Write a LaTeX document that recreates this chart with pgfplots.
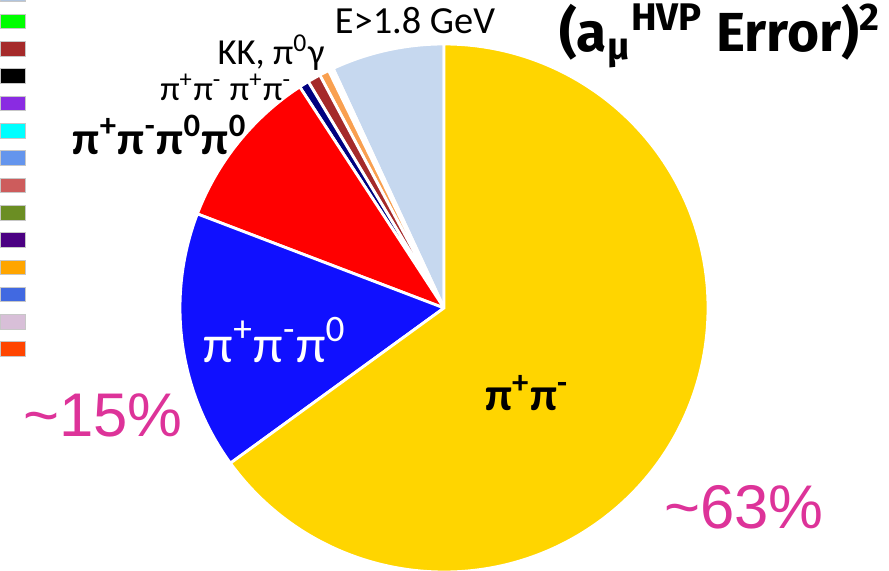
\documentclass[border=0pt]{standalone}
\usepackage{pgfplots}
\pgfplotsset{compat=1.18}
\usepackage{pgfplotstable}
\usepackage{fontspec}
\setmainfont{Carlito}
\newfontfamily\arialfont{Liberation Sans}
\newfontfamily\firafont{Fira Sans}

\definecolor{pieyel}{HTML}{FFD500}
\definecolor{pieblue}{HTML}{1010FF}
\definecolor{piered}{HTML}{FF0000}
\definecolor{pienv}{HTML}{000080}
\definecolor{piebr}{HTML}{A52A2A}
\definecolor{pieor}{HTML}{F9A050}
\definecolor{pielb}{HTML}{C6D8EF}
\definecolor{pctcol}{HTML}{DD3399}

% slice shares in percent, counter-clockwise from 12 o'clock
\pgfplotstableread{
value color
6.9 pielb
0.3 white
0.6 pieor
0.8 piebr
0.6 pienv
10.0 piered
15.8 pieblue
65.0 pieyel
}\piedata

% colour swatches on the left edge (bottom, top in axis units)
\pgfplotstableread{
lo hi color
569.3 583.9 sw0
542.0 556.6 sw1
514.7 529.3 sw2
487.4 502.0 sw3
460.1 474.7 sw4
432.8 447.4 sw5
405.5 420.1 sw6
378.2 392.8 sw7
350.9 365.5 sw8
323.6 338.2 sw9
296.3 310.9 sw10
269.0 283.6 sw11
241.7 256.3 sw12
214.4 229.0 sw13
}\swatches
\definecolor{sw0}{HTML}{B0C4DE}
\definecolor{sw1}{HTML}{00FF00}
\definecolor{sw2}{HTML}{A52A2A}
\definecolor{sw3}{HTML}{000000}
\definecolor{sw4}{HTML}{8A2BE2}
\definecolor{sw5}{HTML}{00FFFF}
\definecolor{sw6}{HTML}{6495ED}
\definecolor{sw7}{HTML}{CD5C5C}
\definecolor{sw8}{HTML}{6B8E23}
\definecolor{sw9}{HTML}{4B0082}
\definecolor{sw10}{HTML}{FFA500}
\definecolor{sw11}{HTML}{4169E1}
\definecolor{sw12}{HTML}{D8BFD8}
\definecolor{sw13}{HTML}{FF4500}

\begin{document}
\begin{tikzpicture}
\begin{axis}[
  x=0.3pt, y=0.3pt,
  xmin=0, xmax=889, ymin=0, ymax=571,
  scale only axis,
  hide axis,
  clip=true,
]

% pie slices
\pgfplotstablegetrowsof{\piedata}
\pgfmathtruncatemacro\nrows{\pgfplotsretval-1}
\xdef\cum{90}
\foreach \i in {0,...,\nrows}{
  \pgfplotstablegetelem{\i}{value}\of\piedata \let\sliceval\pgfplotsretval
  \pgfplotstablegetelem{\i}{color}\of\piedata \let\slicecol\pgfplotsretval
  \pgfmathsetmacro\nxt{\cum+3.6*\sliceval}
  \edef\temp{\noexpand\filldraw[fill=\slicecol, draw=white, line width=0.85pt]
    (axis cs:444,263) -- ++(\cum:79.2pt) arc[start angle=\cum, end angle=\nxt, radius=79.2pt] -- cycle;}
  \temp
  \xdef\cum{\nxt}
}

% swatches
\pgfplotstablegetrowsof{\swatches}
\pgfmathtruncatemacro\nsw{\pgfplotsretval-1}
\foreach \i in {0,...,\nsw}{
  \pgfplotstablegetelem{\i}{lo}\of\swatches \let\swlo\pgfplotsretval
  \pgfplotstablegetelem{\i}{hi}\of\swatches \let\swhi\pgfplotsretval
  \pgfplotstablegetelem{\i}{color}\of\swatches \let\swcol\pgfplotsretval
  \edef\temp{\noexpand\addplot[fill=\swcol, draw=black!22, line width=0.3pt]
    coordinates {(0,\swlo) (26,\swlo) (26,\swhi) (0,\swhi)} -- cycle;}
  \temp
}

% labels
\node[font=\fontsize{14}{15}\selectfont\bfseries] at (axis cs:527,178) {π\textsuperscript{+}π\textsuperscript{-}};
\node[font=\fontsize{16}{17}\selectfont, text=white] at (axis cs:275,231) {π\textsuperscript{+}π\textsuperscript{-}π\textsuperscript{0}};
\node[font=\fontsize{14}{15}\selectfont\bfseries] at (axis cs:160,436) {π\textsuperscript{+}π\textsuperscript{-}π\textsuperscript{0}π\textsuperscript{0}};
\node[font=\fontsize{10.5}{12}\selectfont, inner sep=0pt] at (axis cs:226,484) {π\textsuperscript{+}π\textsuperscript{-} π\textsuperscript{+}π\textsuperscript{-}};
\node[font=\fontsize{11}{12}\selectfont, inner sep=0pt] at (axis cs:271,518) {KK, π\textsuperscript{0}γ};
\node[font=\fontsize{11.5}{12}\selectfont] at (axis cs:415,550) {E>1.8 GeV};
\node[font=\firafont\fontsize{16.5}{18}\selectfont\bfseries] at (axis cs:720,535)
  {(a\textsubscript{μ}\textsuperscript{HVP} Error)\textsuperscript{2}};
\node[font=\arialfont\fontsize{18.5}{20}\selectfont, text=pctcol] at (axis cs:103,156) {\textasciitilde 15\%};
\node[font=\arialfont\fontsize{18.5}{20}\selectfont, text=pctcol] at (axis cs:744,64) {\textasciitilde 63\%};
\end{axis}
\pgfresetboundingbox
\path[use as bounding box] (current axis.south west) rectangle (current axis.north east);
\end{tikzpicture}
\end{document}
